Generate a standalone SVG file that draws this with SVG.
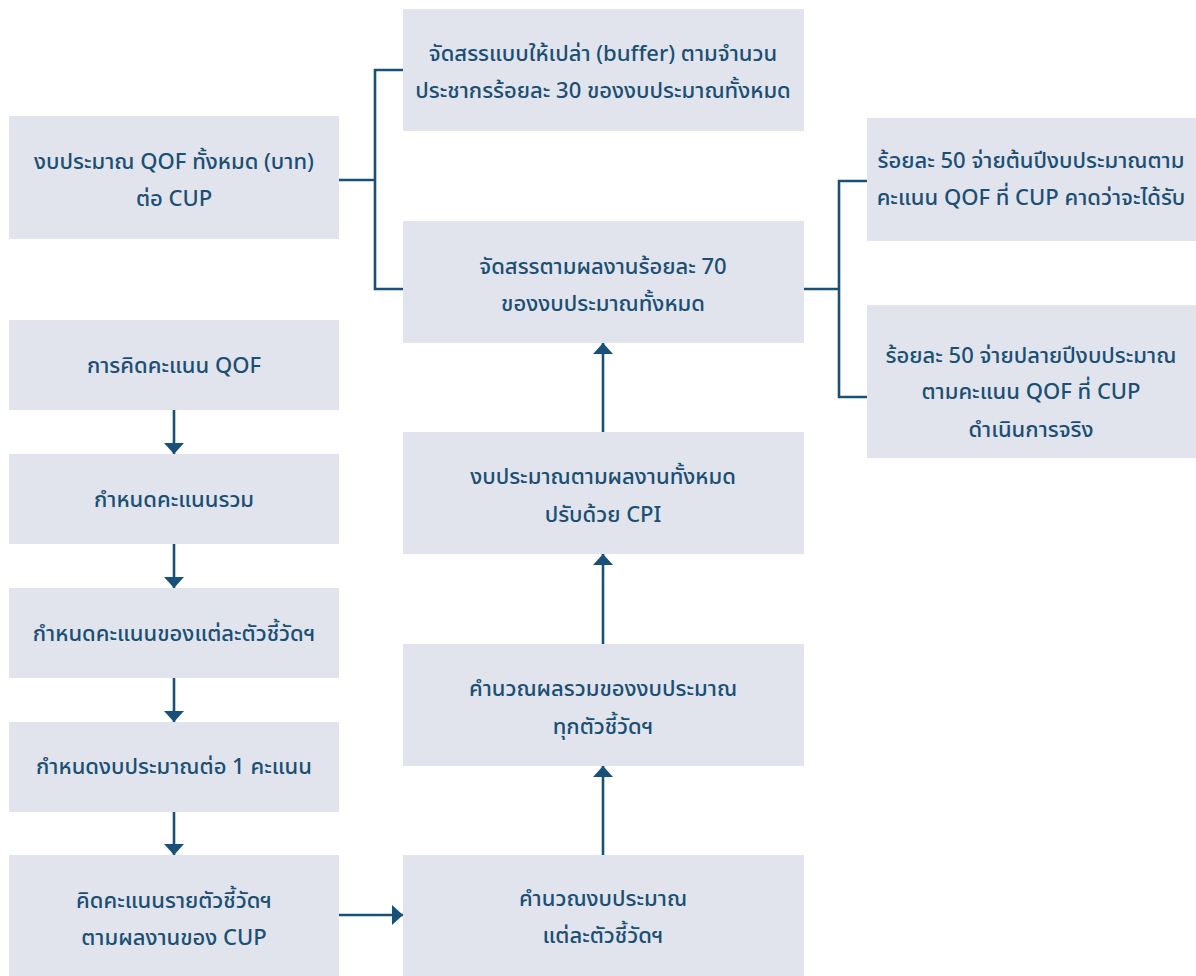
<svg xmlns="http://www.w3.org/2000/svg" width="1196" height="976" viewBox="0 0 1196 976">
  <style>
    .box { fill: #e1e4ec; }
    .lbl { font-family: "Noto Sans Thai", "Noto Sans", "Loma", "Garuda", sans-serif; font-size: 22px; font-weight: 500; fill: #1b4f74; text-anchor: middle; }
    .wire { fill: none; stroke: #17517a; stroke-width: 2.6; }
  </style>
  <defs>
    <marker id="head" viewBox="0 0 11 20" refX="11" refY="10" markerWidth="11" markerHeight="20" markerUnits="userSpaceOnUse" orient="auto">
      <path d="M0,0 L11,10 L0,20 Z" fill="#17517a"/>
    </marker>
  </defs>
  <rect width="1196" height="976" fill="#ffffff"/>

  <!-- left column -->
  <g id="n-total">
    <rect class="box" x="9" y="116" width="330" height="123"/>
    <text class="lbl" x="174" y="169">งบประมาณ QOF ทั้งหมด (บาท)</text>
    <text class="lbl" x="174" y="206">ต่อ CUP</text>
  </g>
  <g id="n-scoring">
    <rect class="box" x="9" y="320" width="330" height="90"/>
    <text class="lbl" x="174" y="373">การคิดคะแนน QOF</text>
  </g>
  <g id="n-sum-score">
    <rect class="box" x="9" y="454" width="330" height="90"/>
    <text class="lbl" x="174" y="507">กำหนดคะแนนรวม</text>
  </g>
  <g id="n-indicator-score">
    <rect class="box" x="9" y="588" width="330" height="90"/>
    <text class="lbl" x="174" y="641">กำหนดคะแนนของแต่ละตัวชี้วัดฯ</text>
  </g>
  <g id="n-per-point">
    <rect class="box" x="9" y="722" width="330" height="90"/>
    <text class="lbl" x="174" y="774">กำหนดงบประมาณต่อ 1 คะแนน</text>
  </g>
  <g id="n-cup-score">
    <rect class="box" x="9" y="855" width="330" height="121"/>
    <text class="lbl" x="174" y="908">คิดคะแนนรายตัวชี้วัดฯ</text>
    <text class="lbl" x="174" y="945">ตามผลงานของ CUP</text>
  </g>

  <!-- middle column -->
  <g id="n-buffer">
    <rect class="box" x="403" y="9" width="401" height="122"/>
    <text class="lbl" x="603" y="61">จัดสรรแบบให้เปล่า (buffer) ตามจำนวน</text>
    <text class="lbl" x="603" y="98">ประชากรร้อยละ 30 ของงบประมาณทั้งหมด</text>
  </g>
  <g id="n-performance">
    <rect class="box" x="403" y="221" width="401" height="122"/>
    <text class="lbl" x="603" y="274">จัดสรรตามผลงานร้อยละ 70</text>
    <text class="lbl" x="603" y="311">ของงบประมาณทั้งหมด</text>
  </g>
  <g id="n-cpi">
    <rect class="box" x="403" y="432" width="401" height="122"/>
    <text class="lbl" x="603" y="484">งบประมาณตามผลงานทั้งหมด</text>
    <text class="lbl" x="603" y="522">ปรับด้วย CPI</text>
  </g>
  <g id="n-sum-budget">
    <rect class="box" x="403" y="644" width="401" height="122"/>
    <text class="lbl" x="603" y="696">คำนวณผลรวมของงบประมาณ</text>
    <text class="lbl" x="603" y="734">ทุกตัวชี้วัดฯ</text>
  </g>
  <g id="n-indicator-budget">
    <rect class="box" x="403" y="855" width="401" height="121"/>
    <text class="lbl" x="603" y="906">คำนวณงบประมาณ</text>
    <text class="lbl" x="603" y="943">แต่ละตัวชี้วัดฯ</text>
  </g>

  <!-- right column -->
  <g id="n-early">
    <rect class="box" x="867" y="118" width="329" height="123"/>
    <text class="lbl" x="1031" y="168">ร้อยละ 50 จ่ายต้นปีงบประมาณตาม</text>
    <text class="lbl" x="1031" y="205">คะแนน QOF ที่ CUP คาดว่าจะได้รับ</text>
  </g>
  <g id="n-late">
    <rect class="box" x="867" y="305" width="329" height="153"/>
    <text class="lbl" x="1031" y="363">ร้อยละ 50 จ่ายปลายปีงบประมาณ</text>
    <text class="lbl" x="1031" y="399">ตามคะแนน QOF ที่ CUP</text>
    <text class="lbl" x="1031" y="437">ดำเนินการจริง</text>
  </g>

  <!-- connectors -->
  <g id="connectors">
    <path class="wire" d="M339,180 H375 M403,70 H375 V289 H403"/>
    <path class="wire" d="M804,289 H839 M867,181 H839 V397 H867"/>
    <line class="wire" x1="174" y1="410" x2="174" y2="454" marker-end="url(#head)"/>
    <line class="wire" x1="174" y1="544" x2="174" y2="588" marker-end="url(#head)"/>
    <line class="wire" x1="174" y1="678" x2="174" y2="722" marker-end="url(#head)"/>
    <line class="wire" x1="174" y1="812" x2="174" y2="855" marker-end="url(#head)"/>
    <line class="wire" x1="339" y1="915" x2="403" y2="915" marker-end="url(#head)"/>
    <line class="wire" x1="603" y1="855" x2="603" y2="766" marker-end="url(#head)"/>
    <line class="wire" x1="603" y1="644" x2="603" y2="554" marker-end="url(#head)"/>
    <line class="wire" x1="603" y1="432" x2="603" y2="343" marker-end="url(#head)"/>
  </g>
</svg>
